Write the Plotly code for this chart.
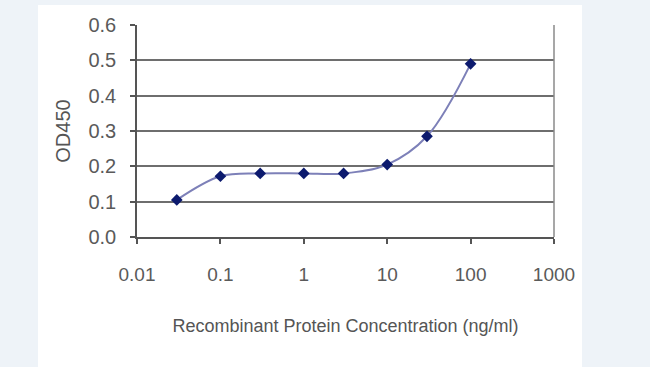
import plotly.graph_objects as go

conc = [0.03, 0.1, 0.3, 1, 3, 10, 30, 100]
od450 = [0.105, 0.172, 0.180, 0.180, 0.180, 0.205, 0.285, 0.490]
x_ticks = [0.01, 0.1, 1, 10, 100, 1000]
x_ticktext = ["0.01", "0.1", "1", "10", "100", "1000"]
y_ticks = [0.0, 0.1, 0.2, 0.3, 0.4, 0.5, 0.6]

FONT = "Liberation Sans Narrow, Arial Narrow, Liberation Sans, Arial, sans-serif"

fig = go.Figure()
fig.add_trace(go.Scatter(
    x=conc, y=od450, mode="lines+markers",
    line=dict(color="#7d80b8", width=2, shape="spline", smoothing=1.0),
    marker=dict(symbol="diamond", size=9, color="#0c1a6e"),
    showlegend=False,
))

L, R, T, B = 137, 96, 25, 130
W, H = 650, 367
pw, ph = W - L - R, H - T - B

def px(x):
    return (x - L) / pw

def py(y):
    return (H - B - y) / ph

fig.add_shape(type="rect", xref="paper", yref="paper",
              x0=px(38), x1=px(582), y0=py(367), y1=py(5),
              fillcolor="white", line=dict(width=0), layer="below")
fig.add_shape(type="line", xref="paper", yref="paper",
              x0=1, x1=1, y0=0, y1=1,
              line=dict(color="#8a8a8a", width=1.5))

fig.update_layout(
    width=W, height=H,
    margin=dict(l=L, r=R, t=T, b=B),
    paper_bgcolor="#eef3f8",
    plot_bgcolor="white",
    font=dict(family=FONT, color="#555555", size=20),
    xaxis=dict(
        type="log", range=[-2, 3],
        tickvals=x_ticks, ticktext=x_ticktext,
        showgrid=False, zeroline=False,
        showline=True, linecolor="#555555", linewidth=1.5,
        ticks="outside", ticklen=5, tickcolor="#555555", tickwidth=1.5,
        ticklabelstandoff=14,
        tickfont=dict(size=19, color="#5a5a5a"),
        title=dict(text="Recombinant Protein Concentration (ng/ml)",
                   font=dict(size=18, color="#555555"), standoff=36),
    ),
    yaxis=dict(
        range=[0, 0.6], tickvals=y_ticks, tickformat=".1f",
        showgrid=True, gridcolor="#6e6e6e", gridwidth=1.6,
        zeroline=False,
        showline=True, linecolor="#555555", linewidth=1.5,
        ticks="outside", ticklen=5, tickcolor="#555555", tickwidth=1.5,
        ticklabelstandoff=10,
        tickfont=dict(size=20, color="#5a5a5a"),
        title=dict(text="OD450", font=dict(size=20, color="#555555"), standoff=12),
    ),
)

fig.write_html("out.html")
